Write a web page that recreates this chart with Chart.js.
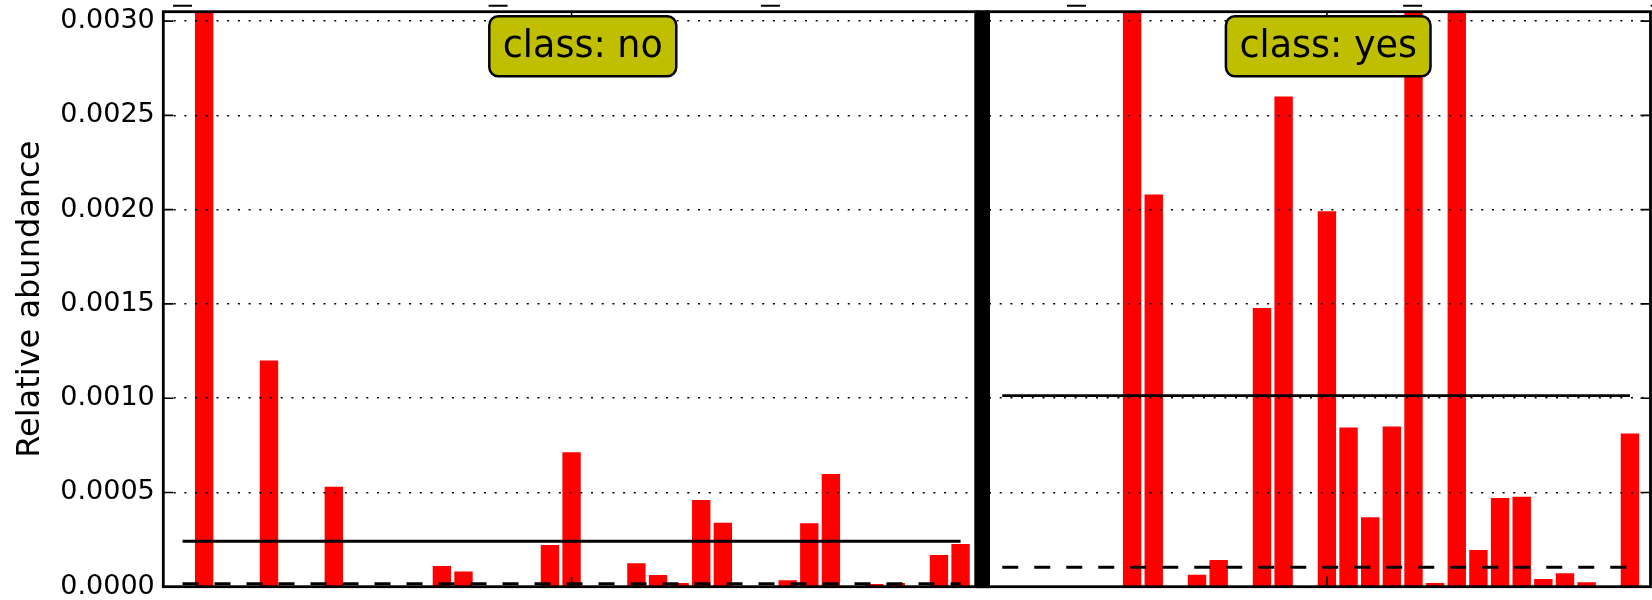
<!DOCTYPE html>
<html>
<head>
<meta charset="utf-8">
<script src="https://cdn.jsdelivr.net/npm/chart.js@4.4.1/dist/chart.umd.min.js"></script>
<style>
body{margin:0;background:#fff;}
#wrap{position:relative;width:1652px;height:600px;overflow:hidden;background:#fff;}
canvas{position:absolute;top:0;}
#cNo{left:0;}
#cYes{left:982px;}
</style>
</head>
<body>
<div id="wrap">
<canvas id="cNo" width="982" height="600"></canvas>
<canvas id="cYes" width="670" height="600"></canvas>
</div>
<script>
const FONT = "'DejaVu Sans', sans-serif";

// relative abundance of each sample, class "no" (37 samples)
const samplesNo = [0, 0.0037, 0, 0, 0.0012, 0, 0, 0.00053, 0, 0, 0, 0, 0.00011, 0.00008, 0, 0, 0,
  0.000221, 0.000713, 0, 0, 0.000124, 0.000062, 0.00002, 0.00046, 0.000339, 0, 0, 0.000034,
  0.000336, 0.000598, 0, 0.000014, 0.00002, 0, 0.000168, 0.000226];
// class "yes" (30 samples)
const samplesYes = [0, 0, 0, 0, 0, 0, 0.0052, 0.00208, 0, 0.000064, 0.000141, 0, 0.001478, 0.0026,
  0, 0.001992, 0.000845, 0.000368, 0.00085, 0.0071, 0.00002, 0.0056, 0.000195, 0.00047, 0.000477,
  0.000041, 0.000071, 0.000023, 0, 0.000813];

// mean (solid) and median (dashed) per class
const meanNo = 0.000241, medianNo = 0.000015;
const meanYes = 0.001013, medianYes = 0.000103;

const classLabels = ['class: no', 'class: yes'];
const labelAt = [18.52, 15.06];     // x of the class boxes, in sample units
const xTickAt = [18, 15];
const topMarksNo = [0, 14.6, 27.2];
const topMarksYes = [3.43, 18.96, 30.4];
const yMax = 0.00305;

const frame = {
  id: 'frame',
  afterDraw(chart, args, o) {
    const {ctx, chartArea: a, scales: {x, y}} = chart;
    ctx.save();
    ctx.fillStyle = '#000';
    if (o.side === 'left') ctx.fillRect(a.right, a.top - 1.5, chart.width - a.right, a.bottom - a.top + 3);
    else ctx.fillRect(0, a.top - 1.5, a.left, a.bottom - a.top + 3);
    ctx.strokeStyle = '#000';
    ctx.lineWidth = 2.8;
    ctx.strokeRect(a.left, a.top, a.right - a.left, a.bottom - a.top);

    ctx.lineWidth = 1.6;
    ctx.beginPath();
    y.ticks.forEach(t => {
      const py = y.getPixelForValue(t.value);
      if (o.side === 'left') { ctx.moveTo(a.left, py); ctx.lineTo(a.left + 10, py); }
      else { ctx.moveTo(a.right, py); ctx.lineTo(a.right - 10, py); }
    });
    const px = x.getPixelForValue(o.xTick);
    ctx.moveTo(px, a.top); ctx.lineTo(px, a.top + 10);
    ctx.moveTo(px, a.bottom); ctx.lineTo(px, a.bottom - 10);
    ctx.stroke();

    ctx.lineWidth = 2;
    ctx.beginPath();
    o.marks.forEach(m => {
      const mx = x.getPixelForValue(m);
      ctx.moveTo(mx - 9.5, a.top - 6); ctx.lineTo(mx + 9.5, a.top - 6);
    });
    ctx.stroke();

    ctx.font = '36.5px ' + FONT;
    const tw = ctx.measureText(o.label).width;
    const bx = x.getPixelForValue(o.labelAt);
    const w = tw + 27, h = 60, top = a.top + 4.6;
    ctx.beginPath();
    ctx.roundRect(bx - w / 2, top, w, h, 9);
    ctx.fillStyle = '#bfbf00';
    ctx.fill();
    ctx.lineWidth = 2.5;
    ctx.stroke();
    ctx.fillStyle = '#000';
    ctx.textAlign = 'center';
    ctx.textBaseline = 'alphabetic';
    ctx.fillText(o.label, bx, top + 40.7);
    ctx.restore();
  }
};

function makeChart(id, values, mean, median, o) {
  const n = values.length;
  return new Chart(document.getElementById(id), {
    type: 'bar',
    data: {
      datasets: [
        {type: 'line', data: [{x: 0, y: mean}, {x: n - 1, y: mean}], borderColor: '#000', borderWidth: 2.8, pointRadius: 0, order: 0},
        {type: 'line', data: [{x: 0, y: median}, {x: n - 1, y: median}], borderColor: '#000', borderWidth: 3, borderDash: [16, 16], pointRadius: 0, order: 0},
        {type: 'bar', data: values.map((v, i) => ({x: i, y: v})), backgroundColor: '#ff0000', borderWidth: 0, barPercentage: 0.85, categoryPercentage: 1, order: 1}
      ]
    },
    options: {
      responsive: false,
      animation: false,
      layout: {padding: o.padding},
      plugins: {legend: {display: false}, tooltip: {enabled: false}, frame: o.frame},
      scales: {
        x: {type: 'linear', min: o.xmin, max: o.xmax, offset: false, display: false,
          afterFit(s) { s.paddingLeft = 0; s.paddingRight = 0; }},
        y: {
          min: 0, max: yMax,
          afterFit(s) { s.width = o.yWidth; s.paddingTop = 0; s.paddingBottom = 0; },
          ticks: {display: o.side === 'left', stepSize: 0.0005, includeBounds: false, padding: 8.5, color: '#000',
            font: {family: FONT, size: 27}, callback: v => v.toFixed(4)},
          grid: {color: '#000', lineWidth: 1.6, drawTicks: false, z: 1},
          border: {display: false, dash: [2, 8.7]},
          title: {display: o.side === 'left', text: 'Relative abundance', color: '#000',
            font: {family: FONT, size: 32}, padding: {top: 11, bottom: 0}}
        }
      }
    },
    plugins: [frame]
  });
}

makeChart('cNo', samplesNo, meanNo, medianNo, {
  side: 'left', xmin: -0.89, xmax: 36.7, yWidth: 163.3,
  padding: {top: 11.7, bottom: 13.3, left: 0, right: 6.3},
  frame: {side: 'left', xTick: xTickAt[0], marks: topMarksNo, label: classLabels[0], labelAt: labelAt[0]}
});
makeChart('cYes', samplesYes, meanYes, medianYes, {
  side: 'right', xmin: -0.63, xmax: 29.95, yWidth: 6.6,
  padding: {top: 11.7, bottom: 13.3, left: 0, right: 1.5},
  frame: {side: 'right', xTick: xTickAt[1], marks: topMarksYes, label: classLabels[1], labelAt: labelAt[1]}
});
</script>
</body>
</html>
